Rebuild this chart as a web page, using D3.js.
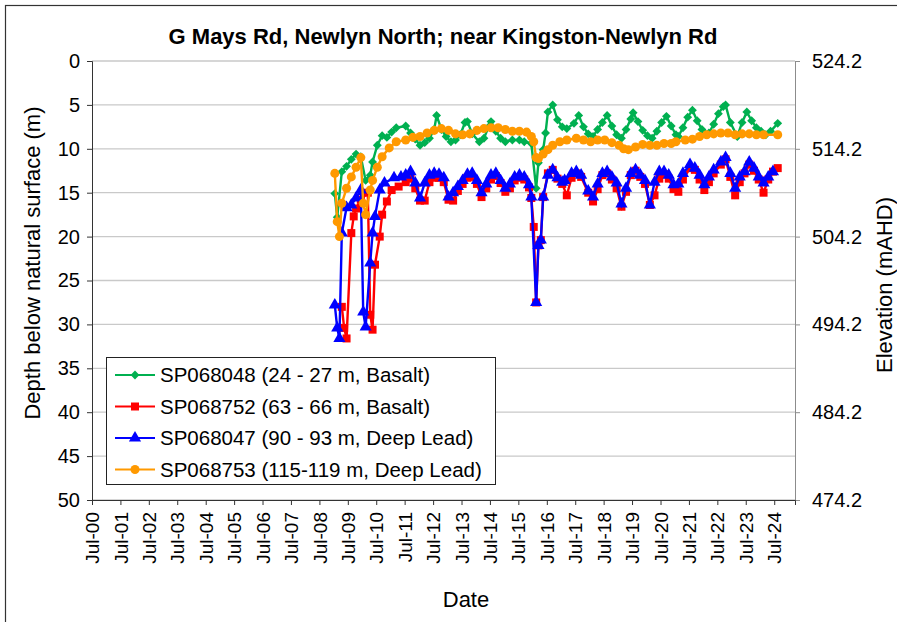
<!DOCTYPE html>
<html>
<head>
<meta charset="utf-8">
<script src="https://cdn.jsdelivr.net/npm/d3@7"></script>
<style>
  body { margin: 0; background: #fff; }
  svg { font-family: "Liberation Sans", Arial, sans-serif; }
</style>
</head>
<body>
<svg id="chart" width="897" height="622"></svg>
<script>
// depth below natural surface (m)
const sp068048 = [
  ["2009-01",15.1],["2009-02",17.8],["2009-04",12.6],["2009-06",12.0],["2009-08",11.2],["2009-10",10.6],
  ["2009-12",10.9],["2010-02",13.6],["2010-04",13.0],["2010-05",11.5],["2010-07",9.6],["2010-09",8.5],
  ["2010-11",8.7],["2011-01",8.1],["2011-03",7.6],["2011-07",7.4],["2011-09",8.2],["2011-11",8.9],
  ["2012-01",9.6],["2012-03",9.3],["2012-05",8.8],["2012-07",7.8],["2012-08",6.2],["2012-10",7.8],
  ["2012-12",8.6],["2013-02",9.2],["2013-04",9.0],["2013-06",8.4],["2013-08",7.0],["2013-09",6.9],
  ["2013-11",8.3],["2014-02",9.2],["2014-04",8.8],["2014-06",7.5],["2014-07",6.9],["2014-09",8.0],
  ["2014-11",8.8],["2015-01",9.2],["2015-04",9.0],["2015-07",9.0],["2015-09",9.2],["2015-12",9.4],
  ["2016-02",14.5],["2016-03",11.6],["2016-05",10.1],["2016-06",8.2],["2016-07",5.8],["2016-09",5.0],
  ["2016-11",6.7],["2017-01",7.5],["2017-03",7.7],["2017-06",7.1],["2017-08",6.2],["2017-10",7.5],
  ["2017-12",8.3],["2018-02",8.6],["2018-04",7.8],["2018-06",7.0],["2018-08",6.2],["2018-10",7.4],
  ["2018-12",8.4],["2019-02",8.8],["2019-04",7.8],["2019-06",6.6],["2019-07",5.9],["2019-09",6.9],
  ["2019-11",7.9],["2020-01",8.5],["2020-03",8.8],["2020-05",8.0],["2020-07",7.0],["2020-09",6.3],
  ["2020-11",7.4],["2021-01",8.4],["2021-02",8.6],["2021-04",7.6],["2021-06",6.4],["2021-08",5.6],
  ["2021-10",6.8],["2021-12",7.8],["2022-03",8.2],["2022-05",7.2],["2022-07",6.0],["2022-09",5.2],
  ["2022-10",5.0],["2022-12",7.0],["2023-03",8.6],["2023-05",7.0],["2023-07",5.8],["2023-09",6.8],
  ["2023-11",7.6],["2024-01",8.0],["2024-03",8.4],["2024-05",8.0],["2024-08",7.1]
];

const sp068752 = [
  ["2009-04",28.0],["2009-05",30.4],["2009-06",31.6],["2009-08",19.6],["2009-09",17.7],["2009-10",16.8],
  ["2009-12",15.8],["2010-03",15.0],["2010-04",28.9],["2010-05",30.6],["2010-06",23.2],["2010-08",20.0],
  ["2010-09",17.5],["2010-11",16.0],["2011-01",14.7],["2011-04",14.3],["2011-07",13.8],["2011-09",13.4],
  ["2011-11",14.5],["2012-01",15.9],["2012-03",15.9],["2012-05",13.8],["2012-07",13.3],["2012-09",13.3],
  ["2012-11",13.8],["2013-01",15.8],["2013-03",15.9],["2013-05",14.8],["2013-07",14.0],["2013-09",13.3],
  ["2013-11",13.2],["2014-01",14.0],["2014-03",15.5],["2014-05",14.5],["2014-07",13.5],["2014-09",13.1],
  ["2014-11",13.9],["2015-01",14.9],["2015-03",14.5],["2015-05",13.6],["2015-07",13.3],["2015-09",13.5],
  ["2015-11",14.4],["2015-12",15.6],["2016-01",18.9],["2016-02",27.5],["2016-03",21.0],["2016-04",20.4],
  ["2016-05",15.5],["2016-07",12.8],["2016-09",12.4],["2016-11",13.4],["2017-01",14.0],["2017-03",15.3],
  ["2017-05",13.3],["2017-07",12.8],["2017-09",13.2],["2017-12",15.0],["2018-02",16.0],["2018-04",14.6],
  ["2018-06",13.0],["2018-08",12.8],["2018-10",13.5],["2018-12",14.5],["2019-02",16.6],["2019-04",14.9],
  ["2019-06",13.0],["2019-08",12.5],["2019-10",13.2],["2019-12",14.0],["2020-02",16.4],["2020-04",15.3],
  ["2020-06",13.4],["2020-08",12.9],["2020-10",13.4],["2020-12",14.6],["2021-02",14.9],["2021-04",13.5],
  ["2021-07",12.2],["2021-09",12.4],["2021-11",13.5],["2022-01",14.7],["2022-03",13.8],["2022-05",12.8],
  ["2022-08",11.8],["2022-10",11.2],["2022-12",13.2],["2023-02",15.3],["2023-04",13.8],["2023-06",12.8],
  ["2023-08",11.8],["2023-10",12.5],["2023-12",13.5],["2024-02",15.0],["2024-04",13.5],["2024-06",12.6],
  ["2024-08",12.2]
];

const sp068047 = [
  ["2009-01",27.8],["2009-02",30.4],["2009-03",31.6],["2009-04",19.6],["2009-06",16.7],["2009-08",16.4],
  ["2009-10",15.6],["2009-12",14.7],["2010-01",28.6],["2010-02",30.3],["2010-04",23.0],["2010-05",19.6],
  ["2010-06",17.7],["2010-08",14.7],["2010-10",13.9],["2011-02",13.3],["2011-05",13.2],["2011-07",13.0],
  ["2011-09",12.6],["2011-11",13.9],["2012-01",15.6],["2012-03",13.9],["2012-05",13.0],["2012-07",12.8],
  ["2012-09",12.9],["2012-11",13.3],["2013-01",15.5],["2013-03",15.0],["2013-05",14.3],["2013-07",13.6],
  ["2013-09",12.9],["2013-11",12.8],["2014-01",13.6],["2014-03",15.0],["2014-05",14.0],["2014-07",13.0],
  ["2014-09",12.8],["2014-11",13.6],["2015-01",14.5],["2015-03",14.0],["2015-05",13.2],["2015-07",13.0],
  ["2015-09",13.2],["2015-11",14.1],["2015-12",15.5],["2016-02",27.5],["2016-03",21.0],["2016-04",20.4],
  ["2016-05",15.5],["2016-07",13.0],["2016-09",12.4],["2016-11",13.3],["2017-01",13.8],["2017-02",13.6],
  ["2017-05",12.8],["2017-07",12.6],["2017-09",13.0],["2017-12",14.8],["2018-02",15.5],["2018-04",14.0],
  ["2018-06",12.8],["2018-08",12.6],["2018-10",13.2],["2018-12",13.9],["2019-02",16.3],["2019-04",14.5],
  ["2019-06",12.8],["2019-08",12.4],["2019-10",13.0],["2019-12",13.6],["2020-02",16.4],["2020-04",13.8],
  ["2020-06",12.6],["2020-08",12.6],["2020-10",13.0],["2020-12",14.1],["2021-02",14.0],["2021-04",12.8],
  ["2021-07",11.8],["2021-09",12.2],["2021-11",13.0],["2022-01",14.1],["2022-03",13.2],["2022-05",12.4],
  ["2022-08",11.5],["2022-10",11.0],["2022-12",12.8],["2023-02",14.5],["2023-04",13.2],["2023-06",12.6],
  ["2023-08",11.5],["2023-10",12.2],["2023-12",13.2],["2024-02",13.9],["2024-04",13.2],["2024-06",12.6]
];

const sp068753 = [
  ["2009-01",12.8],["2009-02",18.3],["2009-03",20.0],["2009-04",16.2],["2009-06",14.5],["2009-08",13.2],
  ["2009-10",12.1],["2009-12",11.0],["2010-01",16.2],["2010-02",17.5],["2010-04",14.7],["2010-05",13.6],
  ["2010-07",12.1],["2010-09",10.9],["2010-12",9.9],["2011-03",9.2],["2011-07",9.0],["2011-10",8.7],
  ["2012-01",8.6],["2012-04",8.2],["2012-07",7.9],["2012-10",7.7],["2013-01",7.9],["2013-04",8.3],
  ["2013-07",8.4],["2013-10",8.3],["2014-01",7.9],["2014-04",7.7],["2014-07",7.6],["2014-10",7.6],
  ["2015-01",7.8],["2015-04",8.0],["2015-07",8.0],["2015-10",8.1],["2015-12",8.6],["2016-01",9.2],
  ["2016-02",11.0],["2016-03",11.1],["2016-05",10.6],["2016-07",10.1],["2016-09",9.6],["2016-12",9.2],
  ["2017-03",9.0],["2017-07",8.8],["2017-10",9.0],["2018-01",9.2],["2018-04",9.0],["2018-07",9.0],
  ["2018-10",9.3],["2019-01",9.6],["2019-03",10.0],["2019-05",10.1],["2019-08",9.8],["2019-11",9.5],
  ["2020-02",9.6],["2020-05",9.6],["2020-08",9.4],["2020-11",9.4],["2021-01",9.2],["2021-05",9.0],
  ["2021-08",8.9],["2021-11",8.6],["2022-02",8.4],["2022-05",8.3],["2022-08",8.2],["2022-11",8.2],
  ["2023-02",8.4],["2023-05",8.3],["2023-08",8.3],["2023-11",8.4],["2024-02",8.4],["2024-08",8.4]
];

const seriesNames = [
  "SP068048 (24 - 27 m, Basalt)",
  "SP068752 (63 - 66 m, Basalt)",
  "SP068047 (90 - 93 m, Deep Lead)",
  "SP068753 (115-119 m, Deep Lead)"
];
const seriesColors = ["#00b050", "#ff0000", "#0000ff", "#ff9900"];
const seriesMarkers = [d3.symbolDiamond2, d3.symbolSquare, d3.symbolTriangle, d3.symbolCircle];
const markerSizes = [50, 64, 64, 64];

const depthTicks = [0, 5, 10, 15, 20, 25, 30, 35, 40, 45, 50];
const elevTicks = [524.2, 514.2, 504.2, 494.2, 484.2, 474.2];
const tickYears = d3.range(2000, 2025);

const parseMonth = d3.timeParse("%Y-%m");
const toDate = s => d3.timeDay.offset(parseMonth(s), 14);

const svg = d3.select("#chart");
const plotLeft = 92, plotRight = 795, plotTop = 61, plotBottom = 500;

// outer frame
svg.append("rect")
  .attr("x", 5.5).attr("y", 5.5)
  .attr("width", 900).attr("height", 640)
  .attr("fill", "none").attr("stroke", "#333").attr("stroke-width", 1.2);

const x = d3.scaleTime()
  .domain([new Date(2000, 6, 1), new Date(2025, 2, 25)])
  .range([plotLeft, plotRight]);
const y = d3.scaleLinear().domain([0, 50]).range([plotTop, plotBottom]);
const yElev = d3.scaleLinear().domain([524.2, 474.2]).range([plotTop, plotBottom]);

// gridlines
svg.append("g")
  .selectAll("line")
  .data(depthTicks)
  .enter().append("line")
    .attr("x1", plotLeft).attr("x2", plotRight)
    .attr("y1", d => y(d)).attr("y2", d => y(d))
    .attr("stroke", "#c9c9c9").attr("stroke-width", 1.3);

// left axis
let gLeft = svg.append("g")
  .attr("transform", "translate(" + plotLeft + ",0)")
  .call(d3.axisLeft(y).tickValues(depthTicks).tickSize(5).tickPadding(7).tickFormat(d3.format("d")));
gLeft.select(".domain").attr("stroke", "#333");
gLeft.selectAll(".tick line").attr("stroke", "#333");
gLeft.selectAll("text").attr("font-size", 20).attr("fill", "#000")
  .attr("font-family", "Liberation Sans, Arial, sans-serif");

// right axis
let gRight = svg.append("g")
  .attr("transform", "translate(" + plotRight + ",0)")
  .call(d3.axisRight(yElev).tickValues(elevTicks).tickSize(5).tickPadding(12).tickFormat(d3.format(".1f")));
gRight.select(".domain").attr("stroke", "#8c8c8c");
gRight.selectAll(".tick line").attr("stroke", "#8c8c8c");
gRight.selectAll("text").attr("font-size", 20).attr("fill", "#000")
  .attr("font-family", "Liberation Sans, Arial, sans-serif");

// bottom axis, a tick each July
let gBottom = svg.append("g")
  .attr("transform", "translate(0," + plotBottom + ")")
  .call(d3.axisBottom(x)
    .tickValues(tickYears.map(yr => new Date(yr, 6, 1)))
    .tickSize(5)
    .tickFormat(d3.timeFormat("%b-%y")));
gBottom.select(".domain").attr("stroke", "#333");
gBottom.selectAll(".tick line").attr("stroke", "#333");
gBottom.selectAll("text")
  .attr("font-size", 19).attr("fill", "#000")
  .attr("font-family", "Liberation Sans, Arial, sans-serif")
  .attr("transform", "rotate(-90)")
  .attr("text-anchor", "end")
  .attr("x", -12).attr("y", 0).attr("dy", "0.35em");

// series
const allSeries = [sp068048, sp068752, sp068047, sp068753];
const line = d3.line().x(d => x(toDate(d[0]))).y(d => y(d[1]));

allSeries.forEach(function(data, i) {
  let g = svg.append("g");
  g.append("path")
    .datum(data)
    .attr("d", line)
    .attr("fill", "none")
    .attr("stroke", seriesColors[i])
    .attr("stroke-width", 2.4);
  g.selectAll("path.mk")
    .data(data)
    .enter().append("path")
      .attr("class", "mk")
      .attr("transform", d => "translate(" + x(toDate(d[0])) + "," + y(d[1]) + ")")
      .attr("d", d3.symbol().type(seriesMarkers[i]).size(markerSizes[i]))
      .attr("fill", seriesColors[i]);
});

// legend
let legend = svg.append("g");
legend.append("rect")
  .attr("x", 106.5).attr("y", 357.5)
  .attr("width", 389).attr("height", 127)
  .attr("fill", "#fff").attr("stroke", "#222").attr("stroke-width", 1);
seriesNames.forEach(function(name, i) {
  let cy = 375 + i * 31.5;
  legend.append("line")
    .attr("x1", 115).attr("x2", 155)
    .attr("y1", cy).attr("y2", cy)
    .attr("stroke", seriesColors[i]).attr("stroke-width", 2.2);
  legend.append("path")
    .attr("transform", "translate(135," + cy + ")")
    .attr("d", d3.symbol().type(seriesMarkers[i]).size(markerSizes[i]))
    .attr("fill", seriesColors[i]);
  legend.append("text")
    .attr("x", 160).attr("y", cy).attr("dy", "0.35em")
    .attr("font-size", 20.5)
    .text(name);
});

// titles
svg.append("text")
  .attr("x", 443).attr("y", 44)
  .attr("text-anchor", "middle")
  .attr("font-size", 22).attr("font-weight", "bold")
  .text("G Mays Rd, Newlyn North; near Kingston-Newlyn Rd");

svg.append("text")
  .attr("x", 466).attr("y", 607)
  .attr("text-anchor", "middle")
  .attr("font-size", 22)
  .text("Date");

svg.append("text")
  .attr("transform", "translate(40,263) rotate(-90)")
  .attr("text-anchor", "middle")
  .attr("font-size", 22)
  .text("Depth below natural surface (m)");

svg.append("text")
  .attr("transform", "translate(892,285) rotate(-90)")
  .attr("text-anchor", "middle")
  .attr("font-size", 22)
  .text("Elevation (mAHD)");
</script>
</body>
</html>
